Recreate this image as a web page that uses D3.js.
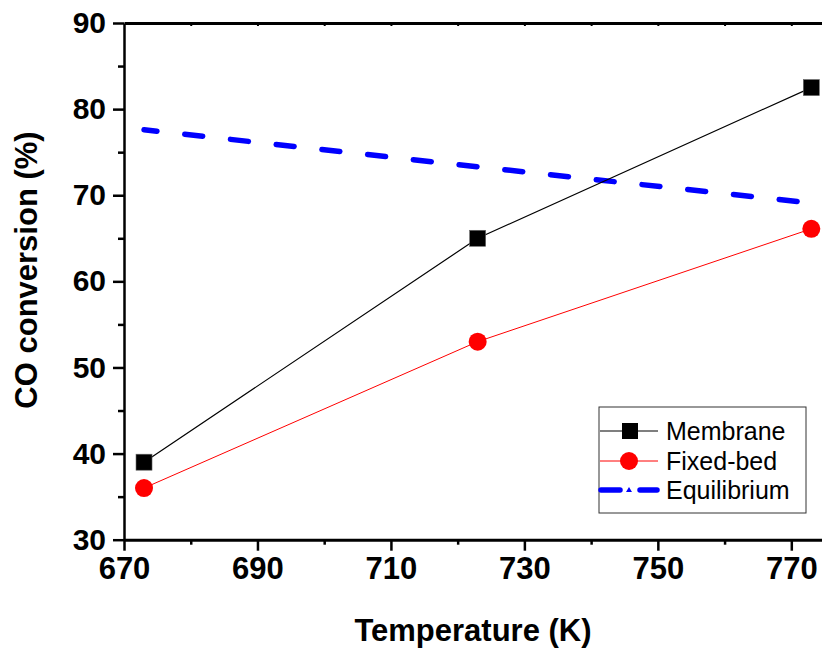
<!DOCTYPE html>
<html>
<head>
<meta charset="utf-8">
<script src="https://cdn.jsdelivr.net/npm/d3@7"></script>
<style>
  body { margin: 0; background: #fff; }
  svg { display: block; font-family: Arial, "Liberation Sans", sans-serif; }
</style>
</head>
<body>
<svg id="chart" width="822" height="653"></svg>
<script>
// data
const temps = [673, 723, 773];
const membrane = [39, 65, 82.5];
const fixedBed = [36, 53, 66.1];
const equilibrium = [77.6, 73.3, 69.1];
const xTicks = [670, 690, 710, 730, 750, 770];
const yTicks = [30, 40, 50, 60, 70, 80, 90];
const legendLabels = ["Membrane", "Fixed-bed", "Equilibrium"];

const svg = d3.select("#chart");
const plotL = 124, plotR = 822, plotT = 23, plotB = 539.7;

const x = d3.scaleLinear().domain([670, 774.6]).range([plotL, plotR]);
const y = d3.scaleLinear().domain([30, 90]).range([plotB, plotT]);

// minor ticks first so the axis lines sit on top
svg.append("g")
    .attr("transform", `translate(${plotL},0)`)
    .call(d3.axisLeft(y).tickValues(d3.range(35, 90, 10)).tickSize(6).tickFormat(""))
    .call(g => g.select(".domain").remove())
    .selectAll("line").attr("stroke-width", 2.5);

svg.append("g")
    .attr("transform", `translate(0,${plotB})`)
    .call(d3.axisBottom(x).tickValues(d3.range(680, 775, 20)).tickSize(5).tickFormat(""))
    .call(g => g.select(".domain").remove())
    .selectAll("line").attr("stroke-width", 2.5);

// top axis: plain line with short inward ticks
svg.append("g")
    .attr("transform", `translate(0,${plotT})`)
    .call(d3.axisTop(x).tickValues(d3.range(680, 775, 10)).tickSize(-3).tickFormat("").tickSizeOuter(0))
    .call(g => g.select(".domain").attr("stroke-width", 3))
    .selectAll("line").attr("stroke-width", 2);

const yAxis = svg.append("g")
    .attr("transform", `translate(${plotL},0)`)
    .call(d3.axisLeft(y).tickValues(yTicks).tickSize(11).tickPadding(7).tickSizeOuter(0));
yAxis.select(".domain").attr("stroke-width", 2.5);
yAxis.selectAll(".tick line").attr("stroke-width", 2.5);
yAxis.selectAll("text").attr("font-size", 30).attr("font-weight", "bold")
    .attr("font-family", "Arial, 'Liberation Sans', sans-serif").attr("fill", "#000");

const xAxis = svg.append("g")
    .attr("transform", `translate(0,${plotB})`)
    .call(d3.axisBottom(x).tickValues(xTicks).tickSize(11).tickPadding(6).tickSizeOuter(0));
xAxis.select(".domain").attr("stroke-width", 3);
xAxis.selectAll(".tick line").attr("stroke-width", 2.5);
xAxis.selectAll("text").attr("font-size", 31).attr("font-weight", "bold")
    .attr("font-family", "Arial, 'Liberation Sans', sans-serif").attr("fill", "#000");

// axis titles
svg.append("text")
    .attr("x", (plotL + plotR) / 2)
    .attr("y", 641)
    .attr("text-anchor", "middle")
    .attr("font-size", 31).attr("font-weight", "bold")
    .text("Temperature (K)");

svg.append("text")
    .attr("transform", "translate(37,270) rotate(-90)")
    .attr("text-anchor", "middle")
    .attr("font-size", 31).attr("font-weight", "bold")
    .text("CO conversion (%)");

const line = d3.line().x(d => x(d[0])).y(d => y(d[1]));
const zip = vals => temps.map((t, i) => [t, vals[i]]);

// equilibrium dashed line
svg.append("path")
    .attr("d", line(zip(equilibrium)))
    .attr("fill", "none")
    .attr("stroke", "#0000ff")
    .attr("stroke-width", 5.5)
    .attr("stroke-linecap", "round")
    .attr("stroke-dasharray", "18 28")
    .attr("stroke-dashoffset", 5);

svg.append("path")
    .attr("d", line(zip(membrane)))
    .attr("fill", "none").attr("stroke", "#000").attr("stroke-width", 1.2);

svg.append("path")
    .attr("d", line(zip(fixedBed)))
    .attr("fill", "none").attr("stroke", "#ff0000").attr("stroke-width", 1);

svg.append("g").selectAll("rect")
    .data(zip(membrane))
    .join("rect")
    .attr("x", d => x(d[0]) - 8).attr("y", d => y(d[1]) - 8)
    .attr("width", 16).attr("height", 16)
    .attr("fill", "#000").attr("stroke", "#666").attr("stroke-width", 0.6);

svg.append("g").selectAll("circle")
    .data(zip(fixedBed))
    .join("circle")
    .attr("cx", d => x(d[0])).attr("cy", d => y(d[1]))
    .attr("r", 9)
    .attr("fill", "#ff0000");

// legend
const lg = svg.append("g");
lg.append("rect")
    .attr("x", 599).attr("y", 407).attr("width", 207).attr("height", 106)
    .attr("fill", "#fff").attr("stroke", "#333").attr("stroke-width", 1);

const rowY = [431, 461, 490];
lg.append("line").attr("x1", 600).attr("x2", 658).attr("y1", rowY[0]).attr("y2", rowY[0])
    .attr("stroke", "#000").attr("stroke-width", 1.2);
lg.append("rect").attr("x", 622).attr("y", rowY[0] - 8).attr("width", 16).attr("height", 16)
    .attr("fill", "#000");
lg.append("line").attr("x1", 600).attr("x2", 658).attr("y1", rowY[1]).attr("y2", rowY[1])
    .attr("stroke", "#ff0000").attr("stroke-width", 1);
lg.append("circle").attr("cx", 629).attr("cy", rowY[1]).attr("r", 9).attr("fill", "#ff0000");
lg.append("line").attr("x1", 601).attr("x2", 620).attr("y1", rowY[2]).attr("y2", rowY[2])
    .attr("stroke", "#0000ff").attr("stroke-width", 5.5).attr("stroke-linecap", "round");
lg.append("line").attr("x1", 640).attr("x2", 657).attr("y1", rowY[2]).attr("y2", rowY[2])
    .attr("stroke", "#0000ff").attr("stroke-width", 5.5).attr("stroke-linecap", "round");
lg.append("path")
    .attr("d", `M${629 - 3},${rowY[2] + 2}L${629 + 3},${rowY[2] + 2}L629,${rowY[2] - 3}Z`)
    .attr("fill", "#0000ff");

lg.selectAll("text")
    .data(legendLabels)
    .join("text")
    .attr("x", 666)
    .attr("y", (d, i) => rowY[i] + 9)
    .attr("font-size", 25)
    .text(d => d);
</script>
</body>
</html>
